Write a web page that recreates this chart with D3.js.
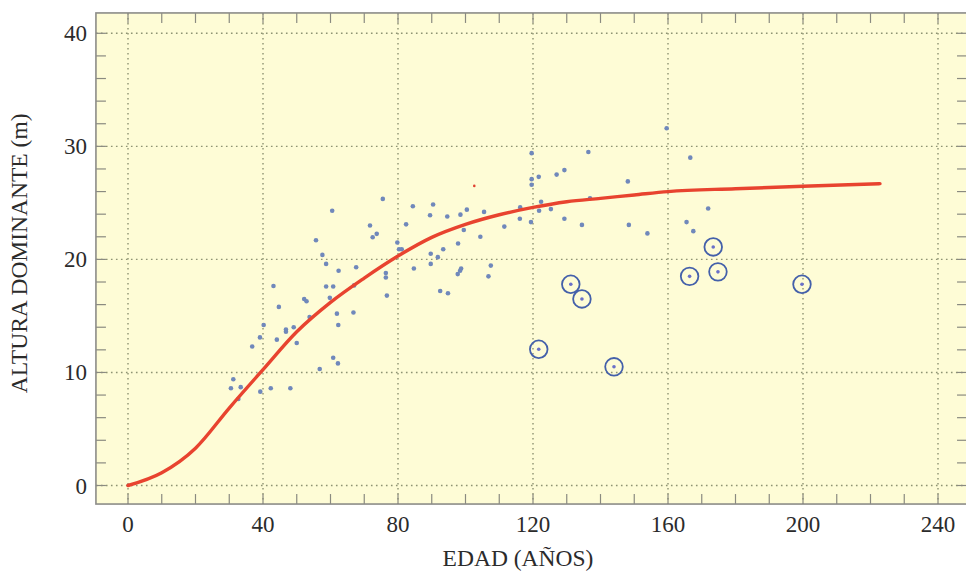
<!DOCTYPE html>
<html>
<head>
<meta charset="utf-8">
<script src="https://cdn.jsdelivr.net/npm/d3@7"></script>
<style>
  html, body { margin: 0; padding: 0; background: #ffffff; }
  svg { display: block; }
</style>
</head>
<body>
<svg id="chart" width="966" height="572"></svg>
<script>
// ---------- data ----------
const xTicks = [0, 40, 80, 120, 160, 200, 240];
const yTicks = [0, 10, 20, 30, 40];
const xLabel = "EDAD (AÑOS)";
const yLabel = "ALTURA DOMINANTE (m)";

// observed plots: age (years), dominant height (m)
const plotAges = [
  75.5, 84.4, 60.5, 71.7, 82.4, 72.5, 73.7, 55.7, 79.8, 80.3, 81.1, 57.6, 58.7, 62.4,
  67.6, 84.7, 76.4, 76.4, 43.1, 58.7, 60.8, 67.0, 76.7, 52.2, 52.9, 59.8, 44.7, 53.8,
  61.9, 66.8, 40.2, 62.3, 49.1, 46.8, 46.8, 44.1, 39.1, 50.0, 36.8, 60.8, 62.2, 56.8,
  31.2, 30.5, 33.4, 32.7, 42.3, 39.2, 48.1,
  90.4, 89.5, 94.6, 98.5, 100.4, 105.5, 119.6, 119.6, 121.7, 127.0, 129.3, 99.5, 111.5,
  116.2, 116.1, 119.4, 121.8, 122.4, 125.3, 129.3, 104.4, 93.4, 97.8, 89.7, 91.8, 89.7,
  98.7, 98.4, 107.5, 97.7, 106.8, 92.5, 94.8,
  119.6, 136.4, 148.1, 136.9, 134.5, 148.4, 153.9,
  159.6, 166.6, 171.9, 165.5, 167.5
];
const plotHeights = [
  25.35, 24.7, 24.3, 23.0, 23.1, 21.96, 22.26, 21.7, 21.5, 20.9, 20.9, 20.4, 19.6, 19.0,
  19.3, 19.2, 18.8, 18.4, 17.65, 17.6, 17.6, 17.7, 16.8, 16.5, 16.3, 16.6, 15.8, 14.9,
  15.2, 15.3, 14.2, 14.2, 14.0, 13.8, 13.6, 12.9, 13.1, 12.6, 12.3, 11.3, 10.8, 10.3,
  9.4, 8.6, 8.7, 7.65, 8.6, 8.3, 8.6,
  24.85, 23.9, 23.8, 23.96, 24.4, 24.2, 27.1, 26.6, 27.3, 27.5, 27.9, 22.6, 22.9,
  24.6, 23.6, 23.3, 24.3, 25.1, 24.45, 23.6, 22.0, 20.9, 21.4, 20.5, 20.2, 19.6,
  19.2, 19.0, 19.45, 18.7, 18.5, 17.2, 17.0,
  29.4, 29.5, 26.9, 25.4, 23.05, 23.05, 22.3,
  31.6, 29.0, 24.5, 23.3, 22.5
];

// circled (excluded) plots
const circledAges = [131.2, 134.5, 121.7, 144.0, 166.4, 173.4, 174.8, 199.7];
const circledHeights = [17.8, 16.5, 12.05, 10.5, 18.5, 21.1, 18.9, 17.8];

// stray red mark
const redAges = [102.6];
const redHeights = [26.5];

// fitted site-index curve
const curveAges = [0, 10, 20, 30, 40, 50, 60, 70, 80, 90, 100, 110, 120, 130, 140, 150, 160, 180, 200, 222.8];
const curveHeights = [0, 1.13, 3.3, 6.85, 10.25, 13.6, 16.2, 18.35, 20.3, 21.95, 23.1, 23.95, 24.6, 25.1, 25.4, 25.7, 26.0, 26.25, 26.47, 26.7];

// axis extents of the framed plot area
const xExtent = [-9.5, 248.6];
const yExtent = [-1.64, 41.8];

// ---------- drawing ----------
const svg = d3.select("#chart");
const x = d3.scaleLinear().domain([0, 240]).range([128, 938]);
const y = d3.scaleLinear().domain([0, 40]).range([485.5, 33.3]);

const L = x(xExtent[0]), R = x(xExtent[1]), T = y(yExtent[1]), B = y(yExtent[0]);
const font = "'Liberation Serif', 'DejaVu Serif', serif";

// background
svg.append("rect").attr("x", L).attr("y", T).attr("width", R - L).attr("height", B - T)
  .attr("fill", "#fefcd6");

// grid
const grid = svg.append("g").attr("stroke", "#8e9373").attr("stroke-width", 1.4)
  .attr("stroke-dasharray", "1.6,3.4").attr("fill", "none");
grid.selectAll("line.v").data(xTicks).join("line").attr("class", "v")
  .attr("x1", d => x(d)).attr("x2", d => x(d)).attr("y1", T).attr("y2", B);
grid.selectAll("line.h").data(yTicks).join("line").attr("class", "h")
  .attr("x1", L).attr("x2", R).attr("y1", d => y(d)).attr("y2", d => y(d));

// minor ticks on the frame
const xMinor = d3.range(0, 250, 10);
const yMinor = d3.range(0, 41.9, 2);
const tk = svg.append("g").attr("stroke", "#8a8a80").attr("stroke-width", 1.2);
const tl = 10;
tk.selectAll("line.b").data(xMinor).join("line").attr("class", "b")
  .attr("x1", d => x(d)).attr("x2", d => x(d)).attr("y1", B).attr("y2", B - tl);
tk.selectAll("line.t").data(xMinor).join("line").attr("class", "t")
  .attr("x1", d => x(d)).attr("x2", d => x(d)).attr("y1", T).attr("y2", T + tl);
tk.selectAll("line.l").data(yMinor).join("line").attr("class", "l")
  .attr("x1", L).attr("x2", L + tl).attr("y1", d => y(d)).attr("y2", d => y(d));
tk.selectAll("line.r").data(yMinor).join("line").attr("class", "r")
  .attr("x1", R).attr("x2", R - tl).attr("y1", d => y(d)).attr("y2", d => y(d));

// frame
svg.append("rect").attr("x", L).attr("y", T).attr("width", R - L).attr("height", B - T)
  .attr("fill", "none").attr("stroke", "#8c8c88").attr("stroke-width", 1.6);

// tick labels
svg.append("g").selectAll("text").data(xTicks).join("text")
  .attr("x", d => x(d)).attr("y", 532)
  .attr("text-anchor", "middle").attr("font-family", font).attr("font-size", 23)
  .attr("fill", "#2b2b2b").text(d => d);
svg.append("g").selectAll("text").data(yTicks).join("text")
  .attr("x", 87).attr("y", d => y(d) + 8)
  .attr("text-anchor", "end").attr("font-family", font).attr("font-size", 23)
  .attr("fill", "#2b2b2b").text(d => d);

// axis titles
svg.append("text").attr("x", (x(0) + x(240)) / 2 - 15).attr("y", 566)
  .attr("text-anchor", "middle").attr("font-family", font).attr("font-size", 23.5)
  .attr("fill", "#2b2b2b").text(xLabel);
svg.append("text").attr("transform", `translate(27,${y(20) - 6}) rotate(-90)`)
  .attr("text-anchor", "middle").attr("font-family", font).attr("font-size", 23.5)
  .attr("fill", "#2b2b2b").text(yLabel);

// points
const pts = plotAges.map((a, i) => ({a, h: plotHeights[i]}));
svg.append("g").selectAll("circle").data(pts).join("circle")
  .attr("cx", d => x(d.a)).attr("cy", d => y(d.h)).attr("r", 2.3)
  .attr("fill", "#7088bb");

// circled points
const cpts = circledAges.map((a, i) => ({a, h: circledHeights[i]}));
const cg = svg.append("g");
cg.selectAll("circle.ring").data(cpts).join("circle").attr("class", "ring")
  .attr("cx", d => x(d.a)).attr("cy", d => y(d.h)).attr("r", 8.8)
  .attr("fill", "none").attr("stroke", "#4460aa").attr("stroke-width", 1.8);
cg.selectAll("circle.dot").data(cpts).join("circle").attr("class", "dot")
  .attr("cx", d => x(d.a)).attr("cy", d => y(d.h)).attr("r", 1.8)
  .attr("fill", "#6a70c8");

// red stray mark
svg.append("g").selectAll("circle").data(redAges.map((a, i) => ({a, h: redHeights[i]})))
  .join("circle").attr("cx", d => x(d.a)).attr("cy", d => y(d.h)).attr("r", 1.3)
  .attr("fill", "#e04030");

// curve
const cdata = curveAges.map((a, i) => ({a, h: curveHeights[i]}));
svg.append("path").datum(cdata)
  .attr("d", d3.line().x(d => x(d.a)).y(d => y(d.h)).curve(d3.curveMonotoneX))
  .attr("fill", "none").attr("stroke", "#e8432f").attr("stroke-width", 3.4)
  .attr("stroke-linecap", "round");
</script>
</body>
</html>
